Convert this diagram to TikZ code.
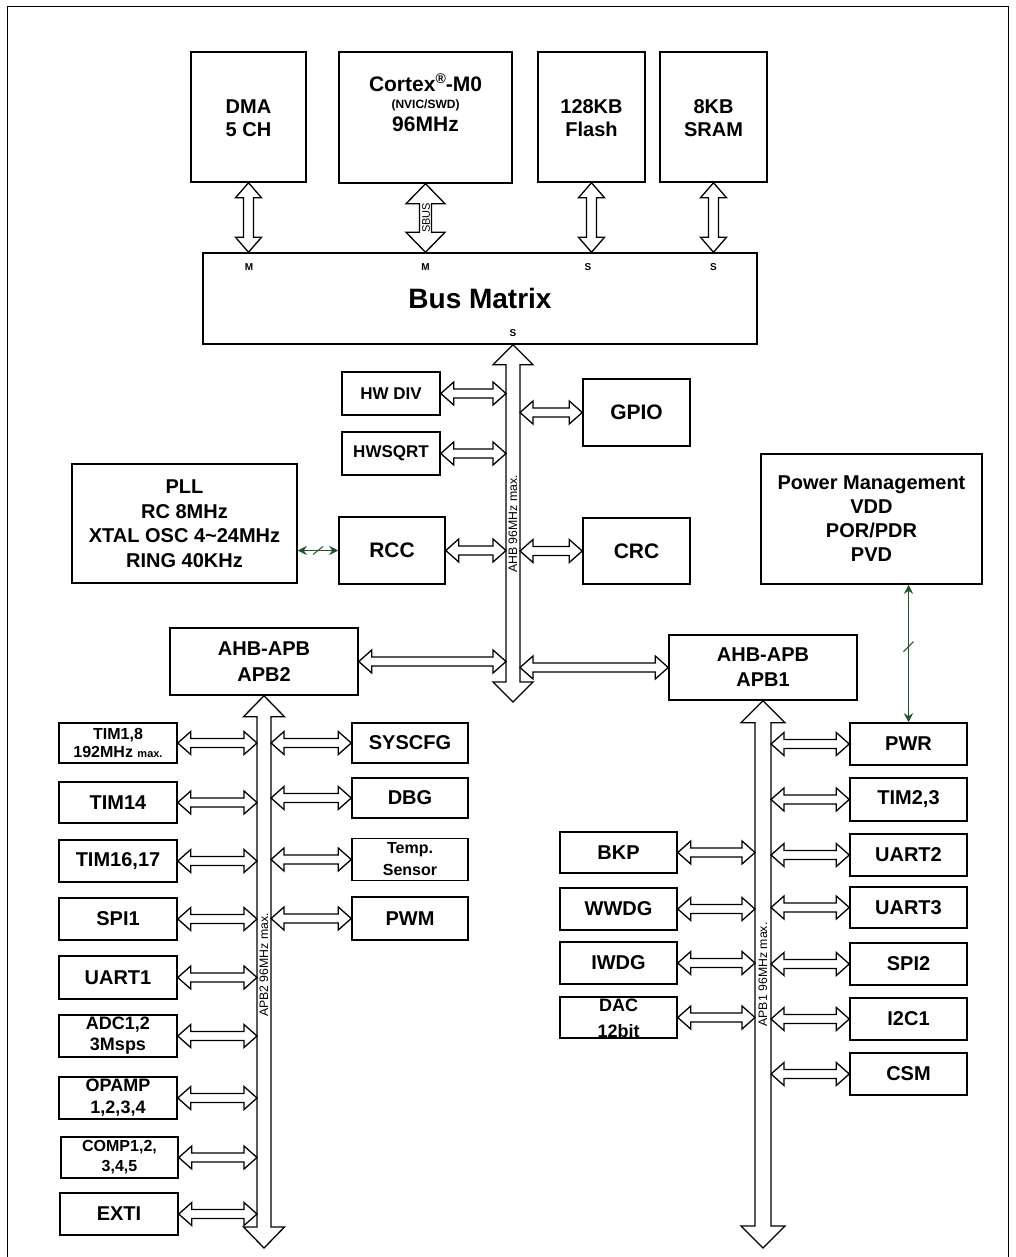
\documentclass[tikz,border=0pt]{standalone}
\usepackage{fontspec}
\setmainfont{Liberation Sans}
\usetikzlibrary{arrows.meta,calc}
\definecolor{gcol}{RGB}{30,85,45}
\newcommand{\myfs}[2]{\fontsize{#1}{#2}\selectfont}
% horizontal double block arrow: #1 left end, #2 right end, #3 shaft half, #4 head half, #5 head length
\newcommand{\dblh}[5]{%
  \draw[blockarrow] let \p1=(#1), \p2=(#2) in
    (\x1,\y1) -- (\x1+#5pt,\y1+#4pt) -- (\x1+#5pt,\y1+#3pt) -- (\x2-#5pt,\y1+#3pt)
    -- (\x2-#5pt,\y1+#4pt) -- (\x2,\y1) -- (\x2-#5pt,\y1-#4pt) -- (\x2-#5pt,\y1-#3pt)
    -- (\x1+#5pt,\y1-#3pt) -- (\x1+#5pt,\y1-#4pt) -- cycle;}
% vertical double block arrow: #1 top end, #2 bottom end
\newcommand{\dblv}[5]{%
  \draw[blockarrow] let \p1=(#1), \p2=(#2) in
    (\x1,\y1) -- (\x1+#4pt,\y1-#5pt) -- (\x1+#3pt,\y1-#5pt) -- (\x1+#3pt,\y2+#5pt)
    -- (\x1+#4pt,\y2+#5pt) -- (\x1,\y2) -- (\x1-#4pt,\y2+#5pt) -- (\x1-#3pt,\y2+#5pt)
    -- (\x1-#3pt,\y1-#5pt) -- (\x1-#4pt,\y1-#5pt) -- cycle;}
\begin{document}
\begin{tikzpicture}[x=1pt,y=-1pt,
  box/.style={draw, line width=1.5pt, fill=white, inner sep=0pt, align=center,
    font=\bfseries\myfs{20}{23}},
  sz/.style 2 args={minimum width=#1pt, minimum height=#2pt},
  txt/.style={inner sep=0pt, align=center, font=\bfseries\myfs{20}{23}},
  blockarrow/.style={draw, fill=white, line width=1.3pt, line join=miter},
  lbl/.style={inner sep=0pt, font=\bfseries\myfs{10}{10}},
  buslbl/.style={inner sep=0pt, rotate=90, font=\myfs{12.3}{12.3}},
  garrow/.style={draw=gcol, line width=1.2pt,
    {Stealth[length=9pt,width=9pt]}-{Stealth[length=9pt,width=9pt]}},
  slash/.style={draw=gcol, line width=1pt}
]
\useasboundingbox (0,0) rectangle (1015,1257);
\draw[line width=1pt] (7,1270) -- (7,7) -- (1008,7) -- (1008,1270);

% ---- top row
\node[box, sz={115}{130}] (dma) at (248.5,117) {};
\node[txt] (dmat) at (248.5,118.5) {DMA\\5 CH};
\node[box, sz={173}{131}] (cortex) at (425.5,117.5) {};
\node[inner sep=0pt, anchor=base, font=\bfseries\myfs{21}{21}] (ct1) at (425.5,91.7)
  {Cortex{\myfs{14}{14}\raisebox{8.5pt}{®}}-M0};
\node[inner sep=0pt, anchor=base, font=\bfseries\myfs{12}{12}] (ct2) at (425.5,109) {(NVIC/SWD)};
\node[inner sep=0pt, anchor=base, font=\bfseries\myfs{21}{21}] (ct3) at (425.5,131.7) {96MHz};
\node[box, sz={107}{130}] (flash) at (591.5,117) {};
\node[txt] (flasht) at (591.5,118) {128KB\\Flash};
\node[box, sz={107}{130}] (sram) at (713.5,117) {};
\node[txt] (sramt) at (713.5,118) {8KB\\SRAM};

% ---- bus matrix
\node[box, sz={554}{91}] (bm) at (480,298.5) {};
\node[inner sep=0pt, font=\bfseries\myfs{28}{28}] (bmt) at (480,298) {Bus Matrix};
\node[lbl] (m1) at (249,267) {M};
\node[lbl] (m2) at (425.5,267) {M};
\node[lbl] (s1) at (588,267) {S};
\node[lbl] (s2) at (713.5,267) {S};
\node[lbl] (s3) at (513,333) {S};

\dblv{dma.south}{dma.south |- bm.north}{5}{13}{15}
\dblv{cortex.south}{cortex.south |- bm.north}{6}{19.5}{20}
\dblv{flash.south}{flash.south |- bm.north}{5}{13}{15}
\dblv{sram.south}{sram.south |- bm.north}{5}{13}{15}
\node[inner sep=0pt, rotate=90, font=\myfs{11}{11}] (sbus) at (426,218) {SBUS};

% ---- AHB area
\node[box, sz={98}{43}, font=\bfseries\myfs{17}{17}] (hwdiv) at (391,393.5) {HW DIV};
\node[box, sz={98}{43}, font=\bfseries\myfs{17}{17}] (hwsqrt) at (391,453.5) {HWSQRT};
\node[box, sz={107}{67}, font=\bfseries\myfs{21}{21}] (gpio) at (636.5,412.5) {GPIO};
\node[box, sz={106}{67}, font=\bfseries\myfs{21}{21}] (rcc) at (392,550.5) {RCC};
\node[box, sz={107}{66}, font=\bfseries\myfs{21}{21}] (crc) at (636.5,551) {CRC};
\node[box, sz={225}{119}, font=\bfseries\myfs{20}{24.5}] (pll) at (184.5,523.5)
  {PLL\\RC 8MHz\\XTAL OSC 4\textasciitilde24MHz\\RING 40KHz};
\node[box, sz={221}{130}, font=\bfseries\myfs{20}{24}] (pwrm) at (871.5,519)
  {Power Management\\VDD\\POR/PDR\\PVD};
\node[box, sz={188}{67}, font=\bfseries\myfs{20}{26}] (apb2) at (264,661.5) {AHB-APB\\APB2};
\node[box, sz={188}{65}, font=\bfseries\myfs{20}{25}] (apb1) at (763,667.5) {AHB-APB\\APB1};

\coordinate (ahbend) at (513,702);
\coordinate (ahbL) at (506,0);
\coordinate (ahbR) at (520,0);
\dblv{bm.south -| ahbend}{ahbend}{7}{20}{20}
\node[buslbl] (ahbl) at (513,524) {AHB 96MHz max.};

\dblh{hwdiv.east}{hwdiv.east -| ahbL}{4.5}{11.5}{13}
\dblh{hwsqrt.east}{hwsqrt.east -| ahbL}{4.5}{11.5}{13}
\dblh{rcc.east}{rcc.east -| ahbL}{4.5}{11.5}{13}
\dblh{gpio.west -| ahbR}{gpio.west}{4.5}{11.5}{13}
\dblh{crc.west -| ahbR}{crc.west}{4.5}{11.5}{13}
\dblh{apb2.east}{apb2.east -| ahbL}{4.5}{11.5}{13}
\dblh{apb1.west -| ahbR}{apb1.west}{4.5}{11.5}{13}

% green links
\draw[garrow] (pll.east |- rcc.west) -- coordinate[midway] (g1) (rcc.west);
\draw[slash] ([shift={(-5pt,-4pt)}]g1) -- ([shift={(5pt,4pt)}]g1);

% ---- APB2 side
\node[box, sz={118}{40}, font=\bfseries\myfs{16}{18}] (tim18) at (118,743)
  {TIM1,8\\192MHz {\myfs{11}{11}max.}};
\node[box, sz={118}{41}] (tim14) at (118,802.5) {TIM14};
\node[box, sz={118}{42}] (tim1617) at (118,861) {TIM16,17};
\node[box, sz={118}{42}] (spi1) at (118,919) {SPI1};
\node[box, sz={118}{43}] (uart1) at (118,977.5) {UART1};
\node[box, sz={118}{42}, font=\bfseries\myfs{18}{21}] (adc) at (118,1036) {ADC1,2\\3Msps};
\node[box, sz={118}{42}, font=\bfseries\myfs{18}{22}] (opamp) at (118,1098) {OPAMP\\1,2,3,4};
\node[box, sz={117}{41}, font=\bfseries\myfs{16}{20}] (comp) at (119.5,1157.5) {COMP1,2,\\3,4,5};
\node[box, sz={118}{42}] (exti) at (119,1214) {EXTI};

\node[box, sz={116}{40}] (syscfg) at (410,743) {SYSCFG};
\node[box, sz={116}{40}] (dbg) at (410,798) {DBG};
\node[box, sz={116}{42}, font=\bfseries\myfs{16}{22}] (temp) at (410,859.5) {Temp.\\Sensor};
\node[box, sz={116}{43}] (pwm) at (410,918.5) {PWM};

\coordinate (apb2end) at (264,1248);
\coordinate (apb2L) at (257,0);
\coordinate (apb2R) at (271,0);
\dblv{apb2.south}{apb2end}{7}{20.5}{21}
\node[buslbl] (apb2l) at (264,965) {APB2 96MHz max.};

\foreach \bx in {tim18,tim14,tim1617,spi1,uart1,adc,opamp,comp,exti}
  {\dblh{\bx.east}{\bx.east -| apb2L}{4.5}{11.5}{13}}
\foreach \bx in {syscfg,dbg,temp,pwm}
  {\dblh{\bx.west -| apb2R}{\bx.west}{4.5}{11.5}{13}}

% ---- APB1 side
\node[box, sz={117}{41}] (bkp) at (618.5,852.5) {BKP};
\node[box, sz={117}{42}] (wwdg) at (618.5,909) {WWDG};
\node[box, sz={117}{42}] (iwdg) at (618.5,963) {IWDG};
\node[box, sz={117}{41}] (dac) at (618.5,1017.5) {};
\node[txt, font=\bfseries\myfs{18}{26}] (dact) at (618.5,1018) {DAC\\12bit};

\node[box, sz={117}{42}] (pwr) at (908.5,744) {PWR};
\node[box, sz={117}{43}] (tim23) at (908.5,799.5) {TIM2,3};
\node[box, sz={117}{42}] (uart2) at (908.5,855) {UART2};
\node[box, sz={117}{41}] (uart3) at (908.5,907.5) {UART3};
\node[box, sz={117}{42}] (spi2) at (908.5,964) {SPI2};
\node[box, sz={117}{42}] (i2c1) at (908.5,1019) {I2C1};
\node[box, sz={117}{42}] (csm) at (908.5,1074) {CSM};

\coordinate (apb1end) at (763,1248);
\coordinate (apb1L) at (755,0);
\coordinate (apb1R) at (771,0);
\dblv{apb1.south}{apb1end}{8}{22}{22}
\node[buslbl] (apb1l) at (763,974.5) {APB1 96MHz max.};

\foreach \bx in {bkp,wwdg,iwdg,dac}
  {\dblh{\bx.east}{\bx.east -| apb1L}{4.5}{11.5}{13}}
\foreach \bx in {pwr,tim23,uart2,uart3,spi2,i2c1,csm}
  {\dblh{\bx.west -| apb1R}{\bx.west}{4.5}{11.5}{13}}

\draw[garrow] (pwr.north) -- coordinate[pos=0.55] (g2) (pwr.north |- pwrm.south);
\draw[slash] ([shift={(-5pt,-5pt)}]g2) -- ([shift={(5pt,5pt)}]g2);
\end{tikzpicture}
\end{document}
